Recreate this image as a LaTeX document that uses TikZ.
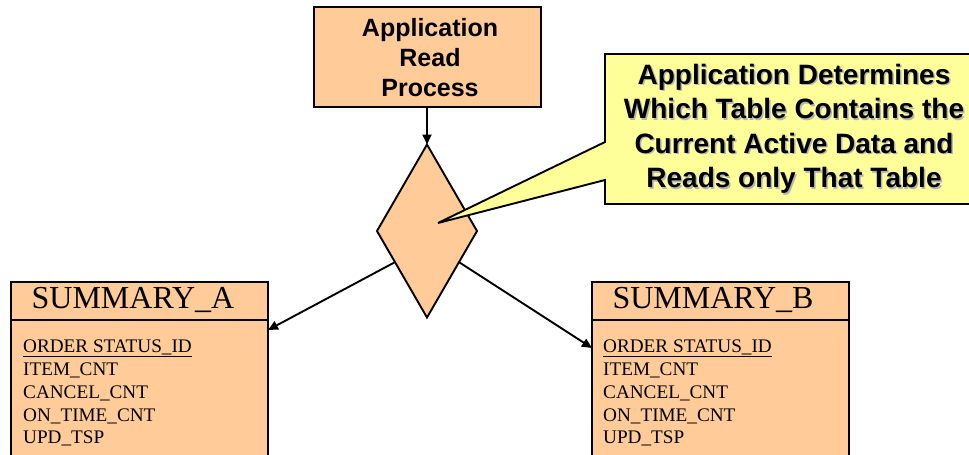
\documentclass[tikz,border=0pt]{standalone}
\usepackage{fontspec}
\setmainfont{Liberation Serif}
\newfontfamily\hv{Liberation Sans}
\usetikzlibrary{shapes.geometric,arrows.meta,calc}
\definecolor{peach}{HTML}{FFCC99}
\definecolor{note}{HTML}{FFFF99}
\definecolor{shade}{HTML}{B4B4B4}
\tikzset{
  edge/.style={line width=1.9pt},
  arr/.style={edge,-{Triangle[length=10pt,width=9pt]}},
  shape box/.style={draw,edge,fill=peach,inner sep=0pt,outer sep=0pt},
  proc text/.style={font=\hv\bfseries\fontsize{25}{30}\selectfont,align=center},
  note text/.style={font=\hv\bfseries\fontsize{28}{34.5}\selectfont,align=center},
  head text/.style={font=\fontsize{32}{36}\selectfont,anchor=base},
  field/.style={font=\fontsize{19.2}{22}\selectfont,anchor=base west,inner sep=0pt}
}
\begin{document}
\begin{tikzpicture}[x=1pt,y=-1pt]
\useasboundingbox (0,0) rectangle (969,455);
\clip (0,0) rectangle (969,455);

% read process
\node[shape box,minimum width=227pt,minimum height=100pt] (proc) at (427.5,57) {};
\node[proc text] (proctxt) at (430,58) {Application\\Read\\Process};

% decision
\node[shape box,diamond,minimum width=100pt,minimum height=173pt] (dia) at (427,231) {};

% call-out note pointing into the decision
\coordinate (tip) at (438,223);
\path[draw,edge,fill=note] (605,54) -- (1000,54) -- (1000,204) -- (605,204)
  -- (605,180) -- (tip) -- (605,142) -- cycle;
\node[note text,text=shade] (noteshd) at (795.5,130.5) {Application Determines\\Which Table Contains the\\Current Active Data and\\Reads only That Table};
\node[note text] (notetxt) at (794,129) {Application Determines\\Which Table Contains the\\Current Active Data and\\Reads only That Table};

% table SUMMARY_A
\node[shape box,minimum width=257pt,minimum height=38pt] (ha) at (139.5,301) {};
\node[shape box,minimum width=257pt,minimum height=150pt,anchor=north] (ba) at (ha.south) {};
\node[head text] (hta) at (133,308) {SUMMARY\_A};
\node[field] (a1) at (23,352) {\underline{ORDER STATUS\_ID}};
\node[field] (a2) at (23,375) {ITEM\_CNT};
\node[field] (a3) at (23,398) {CANCEL\_CNT};
\node[field] (a4) at (23,421) {ON\_TIME\_CNT};
\node[field] (a5) at (23,443.5) {UPD\_TSP};

% table SUMMARY_B
\node[shape box,minimum width=257pt,minimum height=38pt] (hb) at (720.5,301) {};
\node[shape box,minimum width=257pt,minimum height=150pt,anchor=north] (bb) at (hb.south) {};
\node[head text] (htb) at (713,308) {SUMMARY\_B};
\node[field] (b1) at (603,352) {\underline{ORDER STATUS\_ID}};
\node[field] (b2) at (603,375) {ITEM\_CNT};
\node[field] (b3) at (603,398) {CANCEL\_CNT};
\node[field] (b4) at (603,421) {ON\_TIME\_CNT};
\node[field] (b5) at (603,443.5) {UPD\_TSP};

% connectors
\draw[arr] (proc.south -| dia.north) -- (dia.north);
\draw[arr] ($(dia.west)!0.36!(dia.south)$) -- ($(ha.north east)+(0,48)$);
\draw[arr] ($(dia.east)!0.36!(dia.south)$) -- ($(hb.north west)+(0,66)$);
\end{tikzpicture}
\end{document}
